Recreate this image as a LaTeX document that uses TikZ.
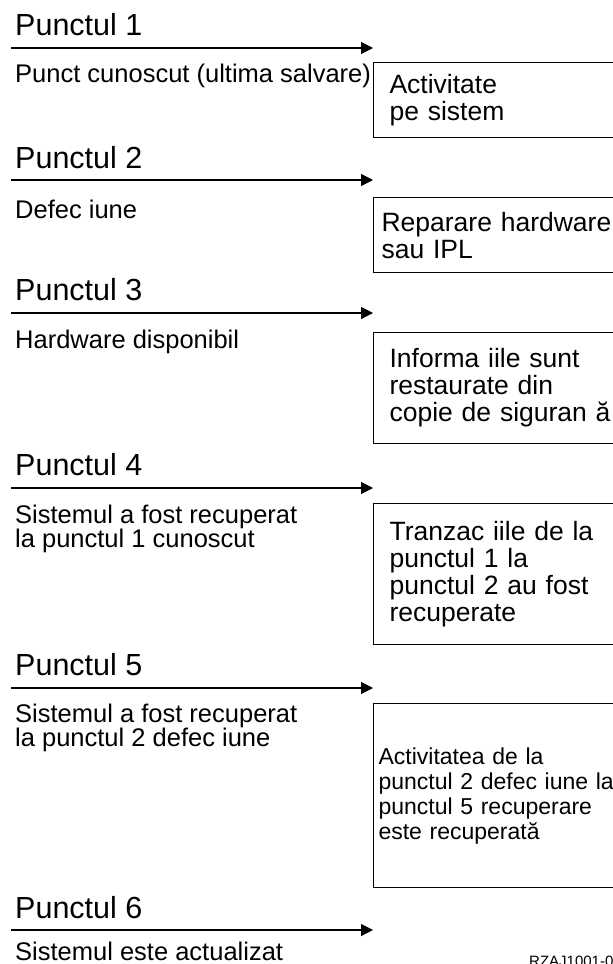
\documentclass[tikz,border=0pt]{standalone}
\usepackage{fontspec}
\setmainfont{Liberation Sans}
\usetikzlibrary{arrows.meta}
\usetikzlibrary{positioning}

\begin{document}
\begin{tikzpicture}[x=1pt, y=-1pt,
    punct/.style={anchor=base west, inner sep=0pt, font=\fontsize{30.5}{36}\selectfont},
    descr/.style={anchor=base west, inner sep=0pt, align=left, font=\fontsize{25.5}{24}\selectfont},
    cutie/.style={draw, line width=1.1pt, anchor=north west, align=left, text width=232pt, inner xsep=16pt, font=\fontsize{26.5}{27}\selectfont},
    sageata/.style={line width=1.1pt, -{Triangle[length=12pt,width=12pt]}}]
    \useasboundingbox (0,0) rectangle (613,964);
    \clip (0,0) rectangle (613,964);
    %\draw[help lines] (0,0) grid[step=50] (613,964);
    \node [punct] (p1) at (15,35) {Punctul 1};
    \node [punct] (p2) at (15,168) {Punctul 2};
    \node [punct] (p3) at (15,300) {Punctul 3};
    \node [punct] (p4) at (15,475) {Punctul 4};
    \node [punct] (p5) at (15,675) {Punctul 5};
    \node [punct] (p6) at (15,918) {Punctul 6};
    \coordinate (s1) at (11,48);   \coordinate (e1) at (373,48);
    \coordinate (s2) at (11,180);  \coordinate (e2) at (373,180);
    \coordinate (s3) at (11,313);  \coordinate (e3) at (373,313);
    \coordinate (s4) at (11,488);  \coordinate (e4) at (373,488);
    \coordinate (s5) at (11,688);  \coordinate (e5) at (373,688);
    \coordinate (s6) at (11,930);  \coordinate (e6) at (373,930);
    % base of a two-line node = baseline of its last line
    \node [descr] (d1) at (15,82) {Punct cunoscut (ultima salvare)};
    \node [descr] (d2) at (15,218) {Defec iune};
    \node [descr] (d3) at (15,348) {Hardware disponibil};
    \node [descr] (d4) at (15,547) {Sistemul a fost recuperat\\la punctul 1 cunoscut};
    \node [descr] (d5) at (15,746) {Sistemul a fost recuperat\\la punctul 2 defec iune};
    \node [descr] (d6) at (15,960) {Sistemul este actualizat};
    \node [cutie, minimum height=75pt] (c1) at (373,62) {Activitate\\pe sistem};
    \node [cutie, minimum height=75pt, inner xsep=8pt] (c2) at (373,197) {Reparare hardware\\sau IPL};
    \node [cutie, minimum height=111pt] (c3) at (373,332) {Informa iile sunt\\restaurate din\\copie de siguran ă};
    \node [cutie, minimum height=141pt] (c4) at (373,503) {Tranzac iile de la\\punctul 1 la\\punctul 2 au fost\\recuperate};
    \node [cutie, minimum height=184pt, inner xsep=5pt, text width=260pt, font=\fontsize{23}{25}\selectfont] (c5) at (373,703) {Activitatea de la\\punctul 2 defec iune la\\punctul 5 recuperare\\este recuperată};
    \node [anchor=base west, inner sep=0pt, font=\fontsize{15}{18}\selectfont] (cod) at (529,966) {RZAJ1001-0};
    \draw [sageata] (s1) -- (e1);
    \draw [sageata] (s2) -- (e2);
    \draw [sageata] (s3) -- (e3);
    \draw [sageata] (s4) -- (e4);
    \draw [sageata] (s5) -- (e5);
    \draw [sageata] (s6) -- (e6);
\end{tikzpicture}
\end{document}
